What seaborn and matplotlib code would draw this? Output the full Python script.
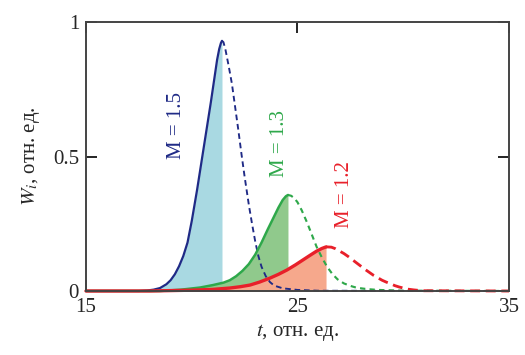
import numpy as np
import pandas as pd
import matplotlib
matplotlib.use("Agg")
import matplotlib.pyplot as plt
import seaborn as sns

# values (t, W_i)
t_15_solid = [15.0, 17.5, 17.9, 18.2, 18.5, 18.8, 19.0, 19.2, 19.4, 19.6, 19.8, 20.0, 20.25, 20.5, 20.7,
              20.9, 21.05, 21.2, 21.3, 21.38, 21.43]
w_15_solid = [0.0, 0.0, 0.002, 0.005, 0.011, 0.025, 0.04, 0.062, 0.092, 0.13, 0.18, 0.26, 0.375, 0.50, 0.60,
              0.70, 0.78, 0.86, 0.90, 0.922, 0.93]
t_15_dash = [21.43, 21.5, 21.6, 21.75, 21.9, 22.05, 22.2, 22.35, 22.5, 22.7, 22.85, 23.0, 23.15, 23.3,
             23.5, 23.7, 23.9, 24.3, 25.0, 26.0, 35.0]
w_15_dash = [0.93, 0.925, 0.895, 0.835, 0.77, 0.685, 0.60, 0.51, 0.425, 0.32, 0.25, 0.185, 0.13, 0.09,
             0.055, 0.033, 0.02, 0.01, 0.004, 0.001, 0.0]

t_13_solid = [15.0, 18.5, 19.5, 20.4, 21.0, 21.5, 21.8, 22.1, 22.4, 22.7, 23.0, 23.3, 23.6, 23.85,
              24.1, 24.3, 24.45, 24.55]
w_13_solid = [0.0, 0.0, 0.005, 0.013, 0.022, 0.031, 0.04, 0.055, 0.075, 0.10, 0.135, 0.18, 0.23, 0.27,
              0.31, 0.338, 0.352, 0.357]
t_13_dash = [24.55, 24.7, 24.85, 25.0, 25.2, 25.45, 25.7, 25.9, 26.15, 26.4, 26.65, 26.9, 27.2, 27.5,
             27.8, 28.3, 28.8, 30.0, 35.0]
w_13_dash = [0.357, 0.354, 0.345, 0.33, 0.30, 0.255, 0.205, 0.165, 0.125, 0.09, 0.063, 0.043, 0.028, 0.019,
             0.012, 0.007, 0.004, 0.001, 0.0]

t_12_solid = [15.0, 18.0, 20.0, 21.0, 21.8, 22.3, 22.75, 23.2, 23.7, 24.1, 24.5, 24.9, 25.25, 25.6,
              25.9, 26.15, 26.35]
w_12_solid = [0.0, 0.0, 0.003, 0.006, 0.011, 0.016, 0.022, 0.033, 0.048, 0.062, 0.078, 0.097, 0.115, 0.133,
              0.148, 0.158, 0.164]
t_12_dash = [26.35, 26.6, 26.8, 27.0, 27.2, 27.4, 27.6, 27.8, 28.0, 28.2, 28.4, 28.6, 28.8, 29.0, 29.2,
             29.4, 29.6, 29.8, 30.0, 30.2, 30.5, 30.9, 35.0]
w_12_dash = [0.164, 0.163, 0.157, 0.148, 0.139, 0.128, 0.116, 0.104, 0.092, 0.08, 0.069, 0.058, 0.049, 0.04,
             0.033, 0.027, 0.02, 0.015, 0.011, 0.007, 0.004, 0.001, 0.0]

labels = ["M = 1.5", "M = 1.3", "M = 1.2"]

sns.set_theme(style="ticks")
plt.rcParams["font.family"] = ["Liberation Serif", "DejaVu Serif"]
plt.rcParams["mathtext.fontset"] = "stix"

fig = plt.figure(figsize=(5.25, 3.55), dpi=100)
ax = fig.add_axes([0.1638, 0.1803, 0.8057, 0.7577])

series = [
    (t_15_solid, w_15_solid, t_15_dash, w_15_dash, "#1f2a86", "#a9d9e2", 1.6, (3, 2)),
    (t_13_solid, w_13_solid, t_13_dash, w_13_dash, "#2ea84a", "#90c98c", 1.8, (2.5, 2)),
    (t_12_solid, w_12_solid, t_12_dash, w_12_dash, "#e8202a", "#f6a88c", 2.4, (3.5, 2)),
]

# fills first, then the lines on top
for ts, ws, td, wd, lc, fc, lw, dash in series:
    ax.fill_between(ts, 0, ws, color=fc, lw=0)

for ts, ws, td, wd, lc, fc, lw, dash in series:
    df_s = pd.DataFrame({"t": ts, "w": ws})
    df_d = pd.DataFrame({"t": td, "w": wd})
    sns.lineplot(data=df_d, x="t", y="w", ax=ax, color=lc, lw=lw * 0.85,
                 sort=False, clip_on=False).lines[-1].set_dashes(dash)
    sns.lineplot(data=df_s, x="t", y="w", ax=ax, color=lc, lw=lw,
                 sort=False, clip_on=False)

ax.text(19.26, 0.617, labels[0], rotation=90, color="#1f2a86", fontsize=15, ha="center", va="center")
ax.text(24.17, 0.55, labels[1], rotation=90, color="#2ea84a", fontsize=15, ha="center", va="center")
ax.text(27.2, 0.36, labels[2], rotation=90, color="#e8202a", fontsize=15, ha="center", va="center")

ax.set_xlim(15, 35)
ax.set_ylim(0, 1)
ax.set_xticks([15, 25, 35])
ax.set_yticks([0, 0.5, 1])
ax.set_xticklabels(["15", "25", "35"])
ax.set_yticklabels(["0", "0.5", "1"])
ax.tick_params(direction="in", length=8, width=1.2, top=True, right=True,
               labelsize=15, pad=5, color="black")
for sp in ax.spines.values():
    sp.set_color("#444444")
    sp.set_linewidth(1.4)

ax.set_xlabel(r"$t$, отн. ед.", fontsize=15, labelpad=4)
ax.set_ylabel(r"$W_i$, отн. ед.", fontsize=15, labelpad=8)

fig.savefig("out.png", dpi=100)
